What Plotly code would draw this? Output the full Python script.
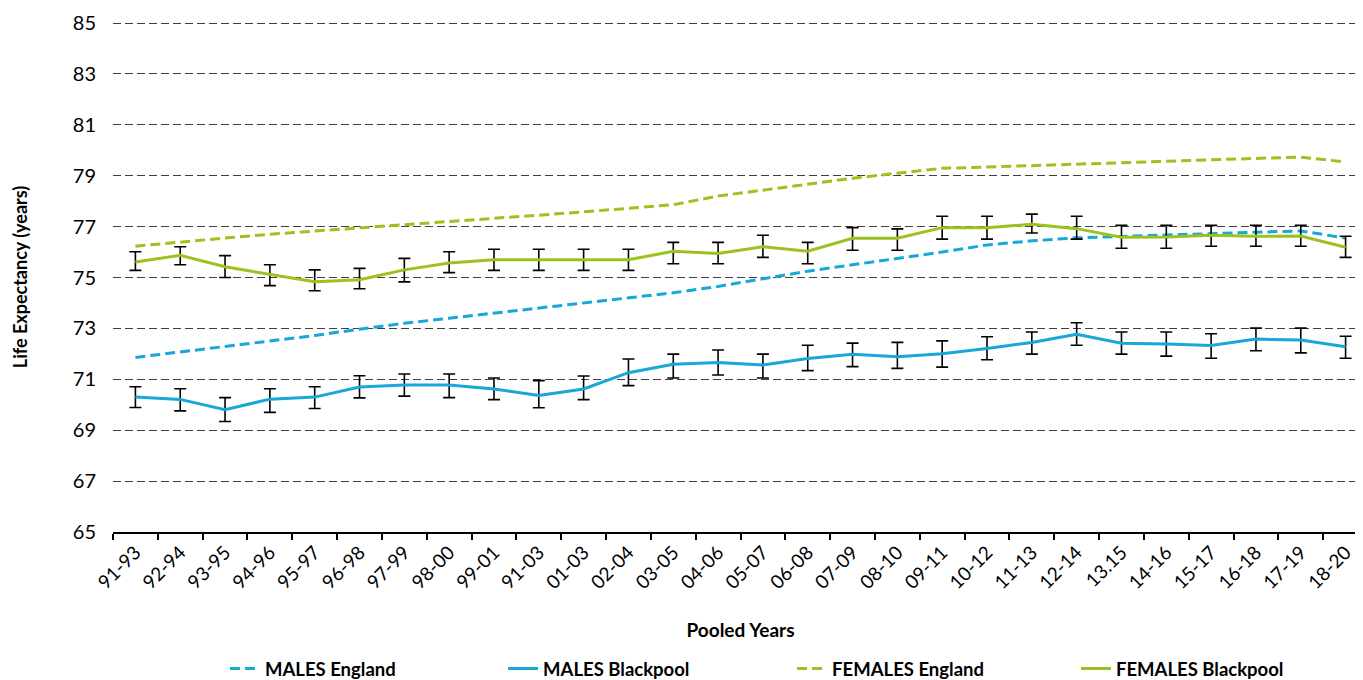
import plotly.graph_objects as go

categories = ["91-93", "92-94", "93-95", "94-96", "95-97", "96-98", "97-99", "98-00",
              "99-01", "91-03", "01-03", "02-04", "03-05", "04-06", "05-07", "06-08",
              "07-09", "08-10", "09-11", "10-12", "11-13", "12-14", "13.15", "14-16",
              "15-17", "16-18", "17-19", "18-20"]

males_england = [71.86, 72.08, 72.3, 72.5, 72.72, 72.97, 73.2, 73.4, 73.6, 73.8, 74.0,
                 74.2, 74.4, 74.65, 74.95, 75.25, 75.5, 75.75, 76.0, 76.28, 76.44,
                 76.56, 76.62, 76.67, 76.73, 76.78, 76.83, 76.55]

males_blackpool = [70.30, 70.21, 69.81, 70.22, 70.30, 70.70, 70.78, 70.78, 70.62, 70.36,
                   70.62, 71.26, 71.59, 71.66, 71.56, 71.82, 71.98, 71.89, 72.00, 72.21,
                   72.45, 72.77, 72.42, 72.39, 72.33, 72.58, 72.54, 72.28]
males_blackpool_upper = [70.71, 70.63, 70.28, 70.63, 70.71, 71.14, 71.21, 71.21, 71.05, 70.95,
                         71.13, 71.80, 71.99, 72.15, 71.99, 72.34, 72.42, 72.45, 72.51, 72.67,
                         72.86, 73.22, 72.86, 72.86, 72.79, 73.01, 73.01, 72.69]
males_blackpool_lower = [69.89, 69.76, 69.34, 69.70, 69.85, 70.27, 70.34, 70.28, 70.20, 69.88,
                         70.20, 70.75, 71.05, 71.17, 71.05, 71.34, 71.50, 71.43, 71.48, 71.77,
                         71.99, 72.34, 71.99, 71.91, 71.83, 72.12, 72.04, 71.83]

females_england = [76.23, 76.4, 76.55, 76.7, 76.82, 76.95, 77.07, 77.2, 77.32, 77.45, 77.58,
                   77.72, 77.86, 78.2, 78.44, 78.68, 78.9, 79.1, 79.29, 79.34, 79.4, 79.46,
                   79.5, 79.56, 79.62, 79.68, 79.73, 79.54]

females_blackpool = [75.61, 75.87, 75.42, 75.13, 74.83, 74.91, 75.30, 75.57, 75.70, 75.70,
                     75.70, 75.70, 76.03, 75.94, 76.21, 76.03, 76.54, 76.54, 76.96, 76.96,
                     77.09, 76.92, 76.58, 76.59, 76.66, 76.62, 76.63, 76.19]
females_blackpool_upper = [76.01, 76.21, 75.86, 75.50, 75.30, 75.36, 75.75, 76.01, 76.11, 76.11,
                           76.11, 76.11, 76.38, 76.38, 76.66, 76.38, 76.96, 76.91, 77.41, 77.41,
                           77.49, 77.41, 77.05, 77.05, 77.05, 77.05, 77.05, 76.62]
females_blackpool_lower = [75.28, 75.50, 75.00, 74.68, 74.48, 74.56, 74.83, 75.19, 75.28, 75.28,
                           75.28, 75.28, 75.54, 75.54, 75.79, 75.54, 76.07, 76.07, 76.51, 76.51,
                           76.75, 76.51, 76.15, 76.15, 76.23, 76.23, 76.23, 75.79]

y_ticks = [65, 67, 69, 71, 73, 75, 77, 79, 81, 83, 85]

BLUE = "#17A8D8"
GREEN = "#9BC21F"
FONT = "Lato"

mb_plus = [u - v for u, v in zip(males_blackpool_upper, males_blackpool)]
mb_minus = [v - l for v, l in zip(males_blackpool, males_blackpool_lower)]
fb_plus = [u - v for u, v in zip(females_blackpool_upper, females_blackpool)]
fb_minus = [v - l for v, l in zip(females_blackpool, females_blackpool_lower)]

fig = go.Figure()
fig.add_trace(go.Scatter(x=categories, y=males_england, mode="lines", name="MALES England",
                         legend="legend",
                         line=dict(color=BLUE, width=3, dash="10px,5px")))
fig.add_trace(go.Scatter(x=categories, y=males_blackpool, mode="lines", name="MALES Blackpool",
                         legend="legend2",
                         line=dict(color=BLUE, width=3),
                         error_y=dict(type="data", symmetric=False, array=mb_plus,
                                      arrayminus=mb_minus, color="black", thickness=1.6,
                                      width=6)))
fig.add_trace(go.Scatter(x=categories, y=females_england, mode="lines", name="FEMALES England",
                         legend="legend3",
                         line=dict(color=GREEN, width=3, dash="10px,5px")))
fig.add_trace(go.Scatter(x=categories, y=females_blackpool, mode="lines", name="FEMALES Blackpool",
                         legend="legend4",
                         line=dict(color=GREEN, width=3),
                         error_y=dict(type="data", symmetric=False, array=fb_plus,
                                      arrayminus=fb_minus, color="black", thickness=1.6,
                                      width=6)))

legend_font = dict(family=FONT, size=18.5, color="#000000", weight="bold")
LEG_Y = -0.2686


def leg(x):
    return dict(orientation="h", x=x, xanchor="left", y=LEG_Y, yanchor="middle",
                font=legend_font, itemwidth=30, bgcolor="rgba(0,0,0,0)")


# the page body adds an 8px offset, so the margins are shifted to compensate
fig.update_layout(
    width=1360, height=680,
    margin=dict(l=105, r=0, t=14, b=156, autoexpand=False),
    paper_bgcolor="white", plot_bgcolor="white",
    font=dict(family=FONT, size=19, color="#000000"),
    showlegend=True,
    legend=leg(0.0892),
    legend2=leg(0.3108),
    legend3=leg(0.5411),
    legend4=leg(0.7673),
    xaxis=dict(
        type="category", range=[-0.5, 27.5], tickangle=-45,
        showgrid=False, showline=True, linecolor="black", linewidth=2,
        ticks="outside", ticklen=6, tickcolor="black", tickwidth=1.5,
        tickson="boundaries", automargin=False,
        tickfont=dict(family=FONT, size=19, color="#000000"),
        title=dict(text="Pooled Years", standoff=32,
                   font=dict(family=FONT, size=19, color="#000000", weight="bold")),
    ),
    yaxis=dict(
        range=[65, 85.04], tickvals=y_ticks, ticktext=[str(v) for v in y_ticks],
        showgrid=True, gridcolor="#404040", gridwidth=1, griddash="8px,4px",
        zeroline=False, showline=False, ticks="", ticklabelstandoff=16,
        automargin=False,
        tickfont=dict(family=FONT, size=20, color="#000000"),
        title=dict(text="Life Expectancy (years)", standoff=40,
                   font=dict(family=FONT, size=18, color="#000000", weight="bold")),
    ),
)

fig.write_html("out.html")
